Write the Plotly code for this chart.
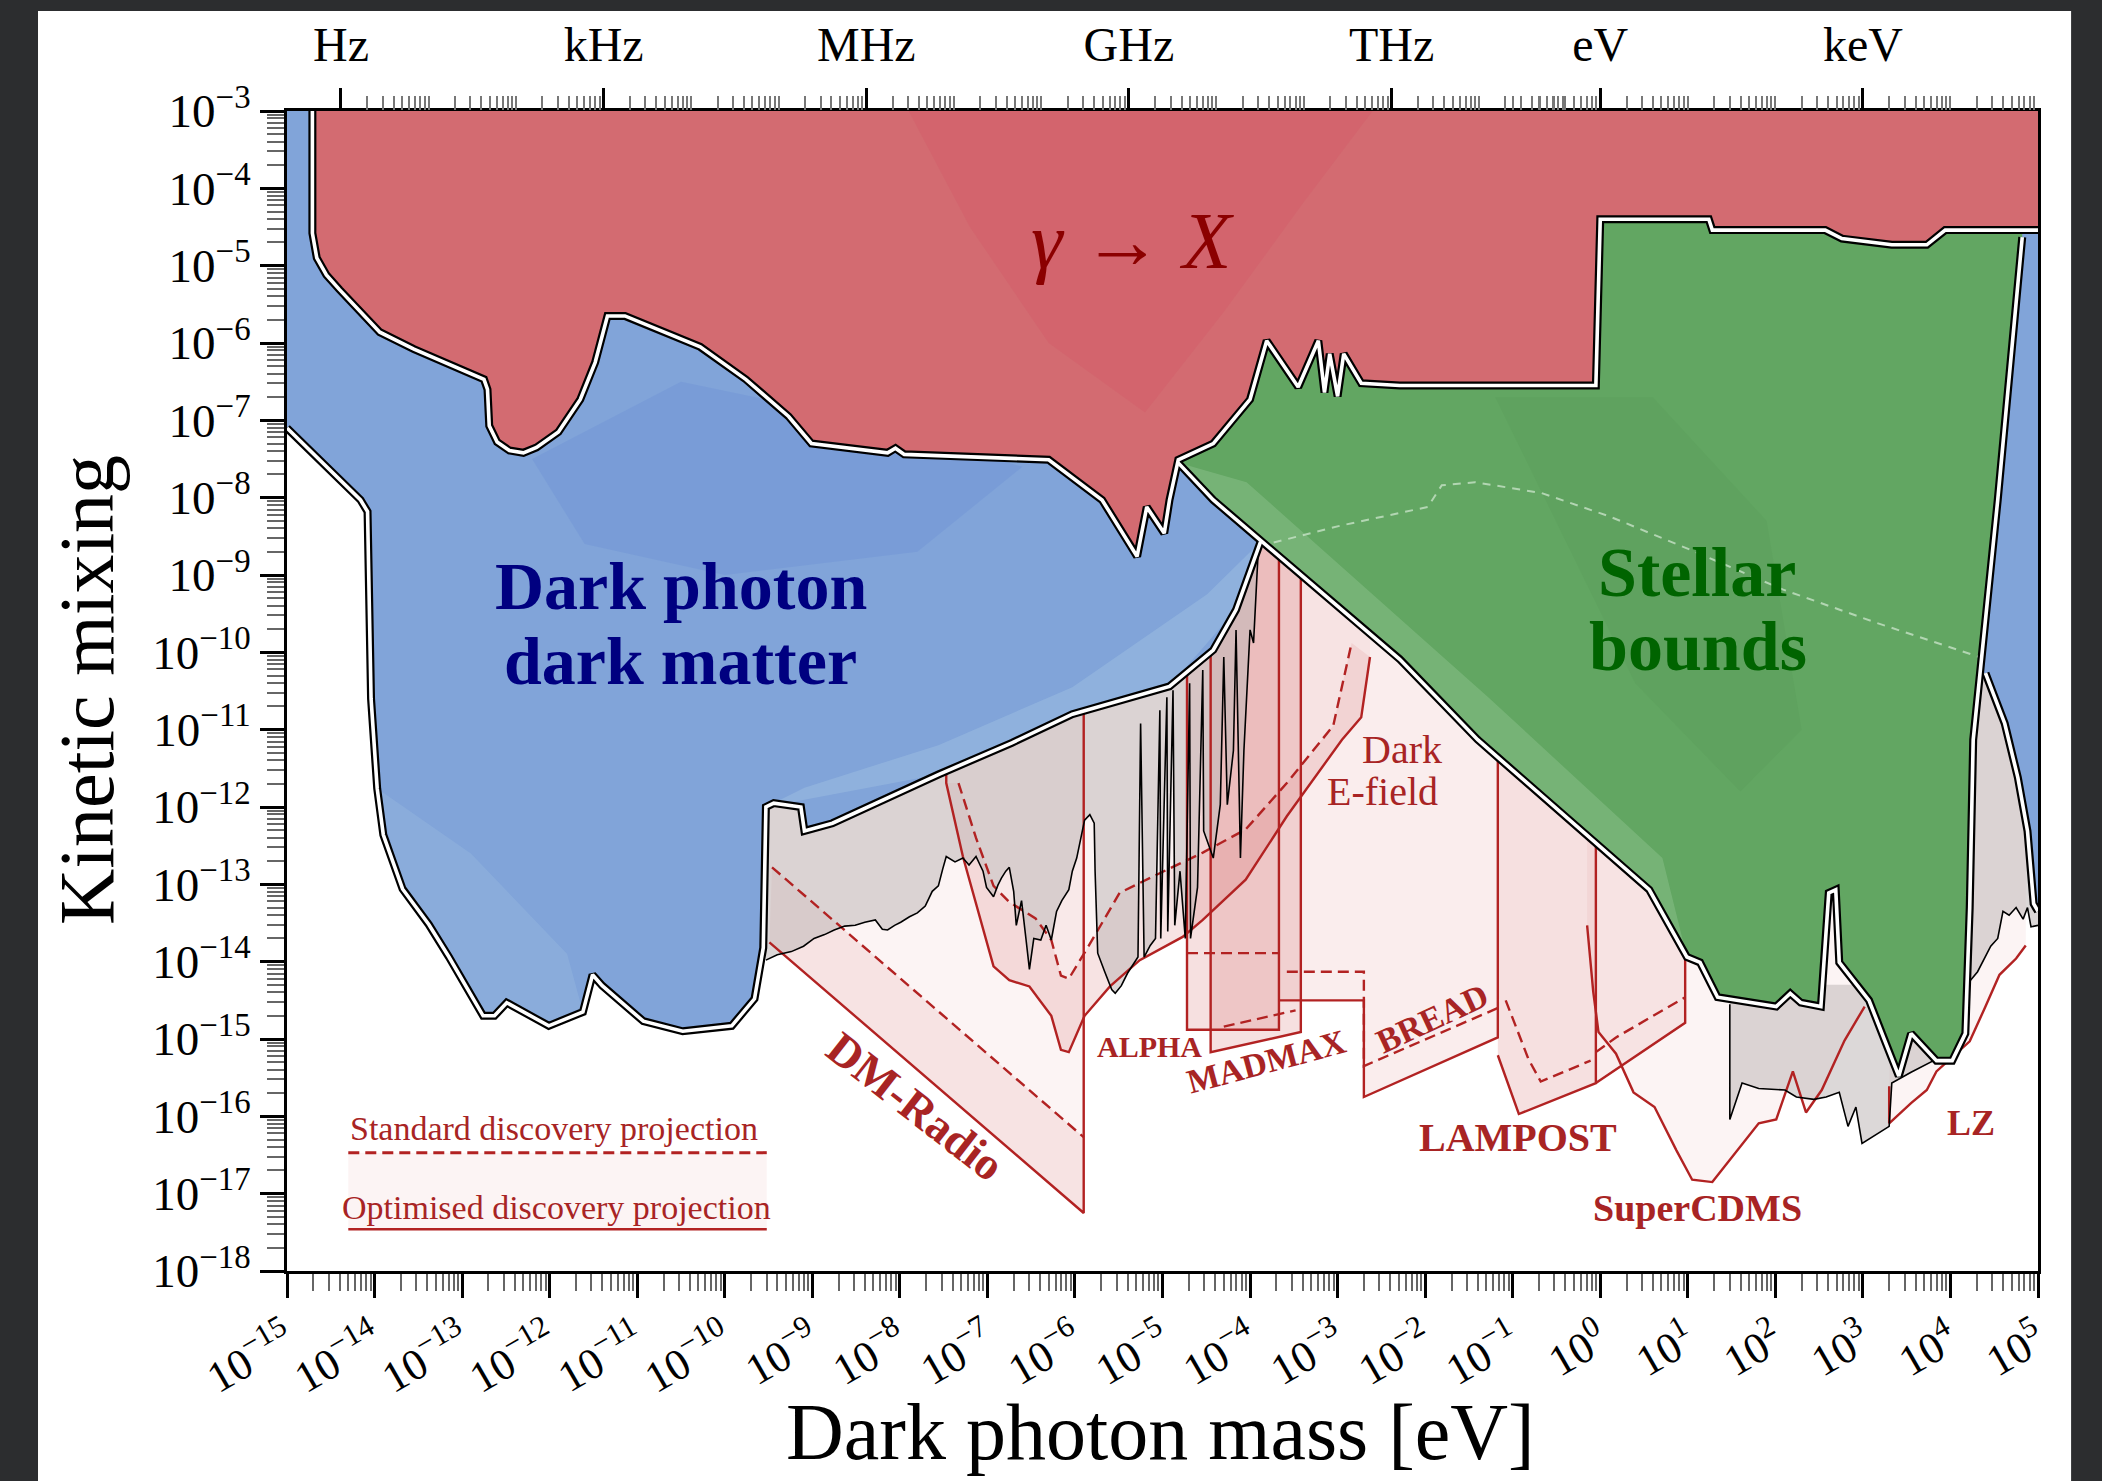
import plotly.graph_objects as go

SERIF = "Liberation Serif"
LINERED = "rgb(178,34,34)"
LABELRED = "rgb(168,36,36)"

# ---------------- axes ----------------
X_DECADES = list(range(-15, 6))
Y_DECADES = list(range(-18, -2))
TOP_TICKS = [4.1357e-15, 4.1357e-12, 4.1357e-9, 4.1357e-6, 4.1357e-3, 1.0, 1.0e3]
TOP_LABELS = ["Hz", "kHz", "MHz", "GHz", "THz", "eV", "keV"]

# ------------- data: (log10 mass [eV], log10 kinetic mixing) -------------
RED_EDGE = [(-14.71, -3.00), (-14.71, -4.58), (-14.66, -4.90), (-14.55, -5.12), (-14.40, -5.31),
            (-14.15, -5.60), (-13.94, -5.86), (-13.55, -6.08), (-13.18, -6.26), (-12.75, -6.47),
            (-12.71, -6.60), (-12.69, -7.07), (-12.60, -7.28), (-12.46, -7.39), (-12.30, -7.42),
            (-12.15, -7.35), (-11.90, -7.15), (-11.65, -6.73), (-11.48, -6.25), (-11.34, -5.65),
            (-11.14, -5.65), (-10.28, -6.05), (-9.76, -6.47), (-9.27, -6.95), (-9.01, -7.30),
            (-8.14, -7.42), (-8.05, -7.36), (-7.95, -7.44), (-6.30, -7.51), (-5.69, -8.03),
            (-5.29, -8.76), (-5.18, -8.12), (-4.98, -8.46), (-4.92, -8.03), (-4.82, -7.51),
            (-4.42, -7.30), (-4.00, -6.73), (-3.81, -5.97), (-3.45, -6.57), (-3.22, -5.97),
            (-3.15, -6.64), (-3.09, -6.14), (-3.00, -6.69), (-2.93, -6.14), (-2.73, -6.52),
            (-2.29, -6.55), (-0.05, -6.55), (0.00, -4.40), (1.24, -4.40), (1.28, -4.54),
            (2.57, -4.54), (2.76, -4.65), (3.33, -4.73), (3.73, -4.73), (3.94, -4.54), (5.00, -4.54)]

BLUE_EDGE = [(-15.00, -7.10), (-14.16, -8.03), (-14.08, -8.18), (-14.04, -10.60), (-13.97, -11.76),
             (-13.90, -12.36), (-13.68, -13.06), (-13.38, -13.52), (-13.15, -13.94), (-12.76, -14.70),
             (-12.63, -14.70), (-12.49, -14.53), (-12.01, -14.83), (-11.62, -14.65), (-11.51, -14.17),
             (-11.40, -14.31), (-10.93, -14.77), (-10.48, -14.90), (-9.92, -14.83), (-9.66, -14.48),
             (-9.56, -13.82), (-9.53, -12.00), (-9.44, -11.95), (-9.13, -12.00), (-9.09, -12.31),
             (-8.77, -12.21), (-7.56, -11.58), (-6.72, -11.17), (-6.03, -10.80), (-4.92, -10.44),
             (-4.42, -9.97), (-4.16, -9.45), (-3.88, -8.57)]
BLUE_HIDDEN = [(-2.96, -8.16)]
BLUE_RIGHT = [(4.40, -10.27), (4.62, -10.92), (4.77, -11.62), (4.88, -12.31), (4.95, -13.25), (5.00, -13.35)]

GREEN_EDGE = [(-4.82, -7.55), (-4.42, -8.03), (-2.29, -10.09), (-1.40, -11.13), (0.56, -13.07),
              (0.99, -13.94), (1.14, -14.01), (1.34, -14.46), (2.01, -14.58), (2.17, -14.41),
              (2.29, -14.53), (2.52, -14.58), (2.61, -13.11), (2.69, -13.07), (2.73, -14.01),
              (3.07, -14.50), (3.25, -15.02), (3.41, -15.48), (3.55, -14.93), (3.84, -15.28),
              (4.02, -15.28), (4.17, -14.93), (4.22, -13.30), (4.26, -11.13), (4.54, -8.03), (4.82, -4.63)]
GREEN_DASH = [(-3.73, -8.58), (-2.96, -8.36), (-1.97, -8.12), (-1.81, -7.84), (-1.43, -7.80),
              (-0.67, -7.94), (0.10, -8.24), (1.02, -8.67), (2.09, -9.19), (3.16, -9.62), (4.33, -10.06)]

# existing haloscope-type bounds (grey)
GREY1_EDGE = [(-9.53, -13.98), (-9.40, -13.91), (-9.24, -13.87), (-9.10, -13.80), (-8.98, -13.70),
              (-8.86, -13.65), (-8.75, -13.59), (-8.63, -13.54), (-8.51, -13.53), (-8.40, -13.49),
              (-8.28, -13.46), (-8.20, -13.58), (-8.14, -13.59), (-8.06, -13.53), (-7.99, -13.49),
              (-7.89, -13.42), (-7.80, -13.37), (-7.71, -13.28), (-7.63, -13.09), (-7.56, -13.02),
              (-7.51, -12.80), (-7.47, -12.64), (-7.37, -12.71), (-7.28, -12.66), (-7.21, -12.75),
              (-7.13, -12.64), (-7.05, -12.83), (-7.01, -13.04), (-6.93, -13.16), (-6.88, -13.01),
              (-6.84, -12.92), (-6.79, -12.83), (-6.75, -12.78), (-6.70, -13.09), (-6.67, -13.53),
              (-6.61, -13.21), (-6.56, -13.70), (-6.52, -14.10), (-6.47, -13.70), (-6.39, -13.72),
              (-6.33, -13.53), (-6.27, -13.72), (-6.21, -13.35), (-6.15, -13.21), (-6.07, -13.07),
              (-6.03, -12.83), (-5.98, -12.66), (-5.93, -12.40), (-5.89, -12.17), (-5.83, -12.10),
              (-5.78, -12.21), (-5.77, -12.83), (-5.74, -13.89), (-5.66, -14.13), (-5.58, -14.36),
              (-5.54, -14.41), (-5.47, -14.31), (-5.40, -14.15), (-5.34, -14.05), (-5.28, -13.94),
              (-5.25, -10.92), (-5.21, -13.94), (-5.14, -13.79), (-5.08, -13.70), (-5.03, -10.75),
              (-5.02, -13.70), (-4.95, -10.58), (-4.94, -13.61), (-4.88, -10.49), (-4.86, -13.53),
              (-4.80, -12.83), (-4.74, -13.70), (-4.69, -10.40), (-4.68, -13.70), (-4.60, -13.04),
              (-4.54, -10.23), (-4.53, -12.31), (-4.42, -12.66), (-4.34, -11.97), (-4.30, -10.06),
              (-4.26, -11.97), (-4.19, -11.27), (-4.16, -9.71), (-4.11, -12.66), (-4.07, -11.27),
              (-4.00, -9.71), (-3.96, -9.88), (-3.91, -8.76)]
GREY2_EDGE = [(5.00, -13.53), (4.92, -13.55), (4.88, -13.30), (4.83, -13.45), (4.75, -13.30),
              (4.67, -13.40), (4.60, -13.35), (4.54, -13.70), (4.46, -13.80), (4.31, -14.13), (4.17, -14.32)]
GREY3_EDGE = [(1.48, -14.55), (1.48, -16.04), (1.62, -15.57), (1.81, -15.64), (2.11, -15.66),
              (2.24, -15.75), (2.44, -15.78), (2.58, -15.75), (2.73, -15.69), (2.83, -16.13),
              (2.92, -15.88), (2.99, -16.35), (3.30, -16.13), (3.33, -15.57), (3.55, -15.43),
              (3.84, -15.26), (4.17, -15.00)]

# discovery projections (solid = optimised, dashed = standard)
DMR_SOLID = [(-9.49, -13.75), (-5.90, -17.25), (-5.90, -10.00)]
DMR_DASH = [(-9.46, -12.78), (-5.90, -16.27)]
EF_SOLID = [(-7.47, -11.40), (-7.47, -11.69), (-7.28, -12.64), (-6.93, -14.06), (-6.75, -14.24),
            (-6.52, -14.32), (-6.27, -14.70), (-6.16, -15.14), (-6.07, -15.17), (-5.89, -14.70),
            (-5.60, -14.32), (-5.26, -13.98), (-4.77, -13.68), (-4.54, -13.46), (-4.05, -12.94),
            (-3.58, -12.12), (-2.95, -11.13), (-2.73, -10.84), (-2.63, -10.06)]
EF_DASH = [(-7.33, -11.69), (-7.13, -12.40), (-6.93, -13.02), (-6.75, -13.23), (-6.45, -13.44),
           (-6.27, -13.72), (-6.16, -14.18), (-6.07, -14.22), (-5.84, -13.79), (-5.49, -13.11),
           (-5.02, -12.85), (-4.54, -12.59), (-4.05, -12.29), (-3.58, -11.69), (-3.05, -10.95), (-2.84, -9.88)]
ALPHA_SOLID = [(-4.72, -9.00), (-4.72, -14.88), (-3.67, -14.88), (-3.67, -8.00)]
ALPHA_DASH = [(-4.72, -13.89), (-3.67, -13.89)]
MADMAX_SOLID = [(-4.45, -9.00), (-4.45, -15.17), (-3.42, -14.91), (-3.42, -8.00)]
MADMAX_DASH = [(-4.30, -14.84), (-3.48, -14.63)]
BREAD_SOLID = [(-3.67, -14.50), (-2.70, -14.50), (-2.70, -15.75), (-1.17, -14.98), (-1.17, -9.00)]
BREAD_DASH = [(-3.58, -14.13), (-2.70, -14.13), (-2.70, -15.35), (-1.17, -14.60)]
LAMP_SOLID = [(-1.17, -15.21), (-0.93, -15.97), (-0.05, -15.57), (-0.05, -9.00)]
LAMP_DASH = [(-1.08, -14.50), (-0.82, -15.26), (-0.68, -15.55), (-0.11, -15.28)]
LAMP2_SOLID = [(-0.05, -15.57), (0.97, -14.79), (0.97, -9.00)]
LAMP2_DASH = [(-0.05, -15.17), (0.18, -14.98), (0.97, -14.46)]
SCDMS_SOLID = [(-0.15, -13.53), (-0.08, -14.39), (-0.02, -14.91), (0.18, -15.19), (0.38, -15.69),
               (0.62, -15.88), (0.87, -16.44), (1.05, -16.82), (1.28, -16.85), (1.48, -16.56),
               (1.81, -16.09), (2.01, -16.04), (2.20, -15.42), (2.35, -15.95), (2.53, -15.66),
               (2.79, -15.02), (3.02, -14.58)]
LZ_SOLID = [(3.30, -15.61), (3.30, -16.09), (3.55, -15.83), (3.73, -15.66), (3.84, -15.42),
            (4.22, -15.03), (4.40, -14.58), (4.56, -14.17), (4.75, -13.96), (4.86, -13.79)]

# shading inside regions
RED_DARK = [(-7.9, -3.0), (-2.6, -3.0), (-3.4, -4.2), (-4.3, -5.6), (-5.2, -6.9), (-6.3, -6.0), (-7.2, -4.5)]
BLUE_DARK = [(-12.2, -7.5), (-10.5, -6.5), (-8.8, -6.9), (-6.6, -7.6), (-7.8, -8.7), (-10.0, -9.0), (-11.6, -8.6)]
BLUE_LIGHT = [(-9.53, -12.00), (-7.56, -11.58), (-6.03, -10.80), (-4.92, -10.44), (-4.16, -9.45),
              (-3.88, -8.57), (-4.49, -9.25), (-6.03, -10.45), (-7.56, -11.20), (-9.09, -11.75)]
BLUE_LOW = [(-13.97, -11.76), (-13.68, -13.06), (-13.15, -13.94), (-12.76, -14.70), (-12.63, -14.70),
            (-12.49, -14.53), (-12.01, -14.83), (-11.62, -14.65), (-11.8, -13.9), (-12.9, -12.6)]
GREEN_LIGHT = [(-4.82, -7.55), (-4.42, -8.03), (-2.29, -10.09), (-1.40, -11.13), (0.56, -13.07),
               (0.99, -13.94), (0.71, -12.66), (-1.28, -10.58), (-4.04, -7.80)]
GREEN_DARK = [(-1.2, -6.7), (0.6, -6.7), (1.9, -8.3), (2.3, -11.0), (1.6, -11.8), (0.4, -10.4)]

# legend sample (log10 values)
LEG_X = [-14.30, -9.52]
LEG_DASH_Y = -16.47
LEG_SOLID_Y = -17.46

TOP = -3.0

LABELS = [
    ("<i>γ</i> \u2192 <i>X</i>", -5.34, -4.68, 80, "rgb(139,0,0)", 0),
    ("<b>Dark photon</b>", -10.50, -9.14, 68, "rgb(0,0,128)", 0),
    ("<b>dark matter</b>", -10.51, -10.11, 68, "rgb(0,0,128)", 0),
    ("<b>Stellar</b>", 1.11, -8.97, 70, "rgb(0,100,0)", 0),
    ("<b>bounds</b>", 1.12, -9.92, 70, "rgb(0,100,0)", 0),
    ("<b>DM-Radio</b>", -7.82, -15.87, 46, LABELRED, 38),
    ("<b>ALPHA</b>", -5.15, -15.10, 30, LABELRED, 0),
    ("<b>MADMAX</b>", -3.81, -15.29, 34, LABELRED, -15),
    ("<b>BREAD</b>", -1.92, -14.74, 34, LABELRED, -25),
    ("<b>LAMPOST</b>", -0.94, -16.27, 40, LABELRED, 0),
    ("<b>SuperCDMS</b>", 1.11, -17.18, 38, LABELRED, 0),
    ("<b>LZ</b>", 4.23, -16.09, 36, LABELRED, 0),
    ("Dark", -2.26, -11.25, 40, LABELRED, 0),
    ("E-field", -2.49, -11.80, 40, LABELRED, 0),
    ("Standard discovery projection", -11.95, -16.16, 34, LABELRED, 0),
    ("Optimised discovery projection", -11.92, -17.18, 34, LABELRED, 0),
]


def P(vals):
    return [10.0 ** v for v in vals]


def xy(pts):
    return P([p[0] for p in pts]), P([p[1] for p in pts])


fig = go.Figure()


def poly(pts, fillcolor):
    x, y = xy(pts)
    fig.add_trace(go.Scatter(x=x, y=y, mode="lines", fill="toself", fillcolor=fillcolor,
                             line=dict(width=0, color="rgba(0,0,0,0)"), hoverinfo="skip",
                             showlegend=False))


def line(pts, color, width, dash=None):
    x, y = xy(pts)
    fig.add_trace(go.Scatter(x=x, y=y, mode="lines",
                             line=dict(width=width, color=color, dash=dash),
                             hoverinfo="skip", showlegend=False))


def top_closed(solid):
    return [(solid[0][0], TOP)] + solid + [(solid[-1][0], TOP)]


PINK_L = "rgba(200,60,60,0.06)"
PINK_M = "rgba(200,60,60,0.09)"
PINK_D = "rgba(200,60,60,0.16)"

# ---- projection fills ----
poly(top_closed(DMR_SOLID[:2]), PINK_L)
poly(DMR_SOLID[:2] + DMR_DASH[::-1], PINK_M)
poly(top_closed(EF_SOLID), PINK_L)
poly(EF_SOLID[1:] + EF_DASH[::-1], PINK_M)
poly(top_closed(ALPHA_SOLID[1:3]), PINK_D)
poly(top_closed(MADMAX_SOLID[1:3]), PINK_D)
poly(top_closed(BREAD_SOLID[:4]), PINK_M)
poly(top_closed(LAMP_SOLID[:3]), PINK_D)
poly(top_closed(LAMP2_SOLID[:2]), PINK_M)
poly(top_closed(SCDMS_SOLID), PINK_L)
poly(top_closed(LZ_SOLID), PINK_L)

# ---- grey existing bounds ----
GREY = "rgba(192,184,184,0.55)"
poly([(-9.53, -8.0)] + GREY1_EDGE + [(-3.91, -8.0)], GREY)
poly(BLUE_RIGHT + GREY2_EDGE + [(4.17, -12.0), (4.30, -10.5)], GREY)
poly([(1.48, -14.3)] + GREY3_EDGE + [(4.17, -14.3)], GREY)

# ---- projection lines ----
DASH = "11px,6px"
for s in [DMR_SOLID, EF_SOLID, ALPHA_SOLID, MADMAX_SOLID, BREAD_SOLID, LAMP_SOLID,
          LAMP2_SOLID, SCDMS_SOLID, LZ_SOLID]:
    line(s, LINERED, 2.4)
for d in [DMR_DASH, EF_DASH, ALPHA_DASH, MADMAX_DASH, BREAD_DASH, LAMP_DASH, LAMP2_DASH]:
    line(d, LINERED, 2.4, DASH)
for g in [GREY1_EDGE, GREY2_EDGE, GREY3_EDGE]:
    line(g, "black", 1.6)

# ---- dark photon dark matter (blue) ----
poly(BLUE_EDGE + BLUE_HIDDEN + BLUE_RIGHT + [(5.0, TOP), (-15.0, TOP)], "rgb(129,164,217)")
poly(BLUE_DARK, "rgba(100,135,212,0.28)")
poly(BLUE_LIGHT, "rgba(160,192,226,0.45)")
poly(BLUE_LOW, "rgba(160,192,226,0.30)")

# ---- stellar bounds (green) ----
poly(GREEN_EDGE + [(4.82, TOP), (-4.82, TOP)], "rgb(98,166,98)")
poly(GREEN_LIGHT, "rgba(150,200,150,0.40)")
poly(GREEN_DARK, "rgba(70,140,70,0.12)")
line(GREEN_DASH, "rgba(205,230,205,0.75)", 2, "8px,7px")

# ---- gamma -> X (red) ----
poly(RED_EDGE + [(5.0, TOP)], "rgb(211,107,113)")
poly(RED_DARK, "rgba(212,70,95,0.18)")

# ---- outlines (white with black edge) ----
for edge in [BLUE_EDGE, BLUE_RIGHT, GREEN_EDGE, RED_EDGE]:
    line(edge, "black", 8)
for edge in [BLUE_EDGE, BLUE_RIGHT, GREEN_EDGE, RED_EDGE]:
    line(edge, "white", 3.6)

# ---- legend sample ----
poly([(LEG_X[0], LEG_DASH_Y), (LEG_X[1], LEG_DASH_Y), (LEG_X[1], LEG_SOLID_Y), (LEG_X[0], LEG_SOLID_Y)],
     "rgba(200,60,60,0.06)")
line([(LEG_X[0], LEG_DASH_Y), (LEG_X[1], LEG_DASH_Y)], LINERED, 3.0, DASH)
line([(LEG_X[0], LEG_SOLID_Y), (LEG_X[1], LEG_SOLID_Y)], LINERED, 2.4)

# invisible trace so the top (frequency) axis is drawn
fig.add_trace(go.Scatter(x=[1e-10], y=[1e-10], xaxis="x2", yaxis="y", mode="markers",
                         marker=dict(opacity=0), hoverinfo="skip", showlegend=False))

# ---- ticks ----
MINUS = "\u2212"


def pow_label(n):
    return "10<sup>" + (MINUS + str(-n) if n < 0 else str(n)) + "</sup>"


x_minor = [k * 10.0 ** n for n in range(-15, 5) for k in range(2, 10)]
y_minor = [k * 10.0 ** n for n in range(-18, -3) for k in range(2, 10)]
top_minor = sorted(set([4.1357e-15 * k * 10.0 ** n for n in range(0, 14) for k in range(1, 10)] +
                       [k * 10.0 ** n for n in range(-1, 5) for k in range(1, 10)]))
top_minor = [v for v in top_minor if 1e-15 < v < 1e5]

annotations = []
for text, lx, ly, size, color, ang in LABELS:
    annotations.append(dict(x=lx, y=ly, xref="x", yref="y", text=text, showarrow=False,
                            font=dict(family=SERIF, size=size, color=color), textangle=ang,
                            xanchor="center", yanchor="middle"))
annotations.append(dict(x=0.4986, y=-0.139, xref="paper", yref="paper", text="Dark photon mass [eV]",
                        showarrow=False, font=dict(family=SERIF, size=80, color="black"),
                        xanchor="center", yanchor="middle"))
annotations.append(dict(x=-0.1142, y=0.5009, xref="paper", yref="paper", text="Kinetic mixing",
                        showarrow=False, font=dict(family=SERIF, size=78, color="black"),
                        textangle=-90, xanchor="center", yanchor="middle"))

fig.update_layout(
    width=2102, height=1481,
    margin=dict(l=287, r=64, t=111, b=210),
    paper_bgcolor="rgb(44,45,47)",
    plot_bgcolor="white",
    showlegend=False,
    xaxis=dict(type="log", range=[-15, 5], tickvals=P(X_DECADES),
               ticktext=[pow_label(n) for n in X_DECADES], tickangle=-30,
               ticks="outside", ticklen=24, tickwidth=3, tickcolor="black",
               showline=True, linewidth=3, linecolor="black", mirror=True,
               showgrid=False, zeroline=False,
               tickfont=dict(family=SERIF, size=44, color="black"),
               minor=dict(ticks="outside", ticklen=17, tickwidth=2, tickcolor="#666666",
                          tickvals=x_minor, showgrid=False)),
    xaxis2=dict(type="log", range=[-15, 5], overlaying="x", side="top", anchor="y",
                tickvals=TOP_TICKS, ticktext=TOP_LABELS, ticks="outside", ticklen=22,
                tickwidth=3, tickcolor="black", showline=False, showgrid=False, zeroline=False,
                ticklabelstandoff=8,
                tickfont=dict(family=SERIF, size=48, color="black"),
                minor=dict(ticks="outside", ticklen=14, tickwidth=2, tickcolor="#777777",
                           tickvals=top_minor, showgrid=False)),
    yaxis=dict(type="log", range=[-18, -3], tickvals=P(Y_DECADES),
               ticktext=[pow_label(n) for n in Y_DECADES],
               ticks="outside", ticklen=24, tickwidth=3, tickcolor="black",
               showline=True, linewidth=3, linecolor="black", mirror=True,
               showgrid=False, zeroline=False,
               tickfont=dict(family=SERIF, size=47, color="black"),
               minor=dict(ticks="outside", ticklen=17, tickwidth=2, tickcolor="#666666",
                          tickvals=y_minor, showgrid=False)),
    shapes=[dict(type="rect", xref="paper", yref="paper", x0=-0.1422, x1=1.0189,
                 y0=-0.20, y1=1.0862, fillcolor="white", line=dict(width=0), layer="below")],
    annotations=annotations,
)

fig.write_html("out.html")
